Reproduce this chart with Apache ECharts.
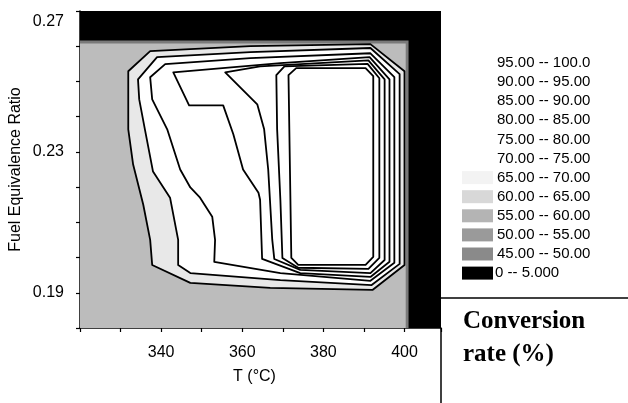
<!DOCTYPE html>
<html><head><meta charset="utf-8">
<script src="https://cdn.jsdelivr.net/npm/echarts@6/dist/echarts.min.js"></script>
<style>html,body{margin:0;padding:0;background:#fff}#c{width:628px;height:403px}</style>
</head><body><div id="c"></div>
<script>
// ---- axes ----
const tempRange = [320, 409];
const phiRange = [0.18, 0.27];
const tempTickLabels = [340, 360, 380, 400];
const phiTickLabels = ['0.19', '0.23', '0.27'];

// ---- legend ----
const legendLabels = ['95.00 -- 100.0','90.00 -- 95.00','85.00 -- 90.00','80.00 -- 85.00','75.00 -- 80.00','70.00 -- 75.00','65.00 -- 70.00','60.00 -- 65.00','55.00 -- 60.00','50.00 -- 55.00','45.00 -- 50.00','0 -- 5.000'];
const legendSwatch = [null,null,null,null,null,null,'#f3f3f3','#d8d8d8','#b4b4b4','#9a9a9a','#8a8a8a','#000000'];

// ---- regions (T in degC, phi) ----
const region0to5 = [[320,0.18],[409,0.18],[409,0.27],[320,0.27]];
const regionEdge = [[320,0.18],[401.0,0.18],[401.0,0.2616],[320,0.2616]];
const region45to50 = [[320,0.18],[400.3,0.18],[400.3,0.2608],[320,0.2608]];
const contour1 = [[331.9,0.2529],[337.3,0.2586],[362.0,0.2600],[391.6,0.2606],[400.0,0.2529],[400.0,0.1979],[392.1,0.1908],[366.9,0.1914],[347.2,0.1928],[337.8,0.1979],[337.3,0.2050],[335.6,0.2150],[333.1,0.2264],[331.9,0.2364]];
const contour2 = [[334.3,0.2506],[339.0,0.2569],[362.0,0.2583],[391.6,0.2595],[398.8,0.2521],[398.8,0.1982],[391.9,0.1922],[369.4,0.1936],[347.2,0.1956],[344.2,0.1979],[344.2,0.2050],[342.2,0.2170],[338.0,0.2244],[336.0,0.2364],[334.6,0.2449]];
const contour3 = [[337.3,0.2512],[341.0,0.2549],[362.0,0.2566],[391.6,0.2580],[397.5,0.2512],[397.5,0.1985],[391.6,0.1934],[369.4,0.1956],[353.1,0.1988],[353.3,0.2050],[352.6,0.2116],[349.6,0.2170],[347.2,0.2199],[344.7,0.2250],[341.5,0.2364],[337.8,0.2449]];
const contour4 = [[343.0,0.2526],[369.4,0.2552],[391.4,0.2569],[396.3,0.2506],[396.3,0.1988],[391.6,0.1945],[374.3,0.1956],[364.9,0.1996],[364.4,0.2164],[364.0,0.2184],[360.2,0.2250],[357.8,0.2350],[355.3,0.2432],[346.9,0.2432]];
const contour5 = [[355.8,0.2526],[364.4,0.2543],[391.1,0.2560],[395.1,0.2506],[395.1,0.1993],[391.6,0.1956],[374.3,0.1965],[367.9,0.1996],[367.4,0.2050],[366.4,0.2250],[365.4,0.2364],[363.7,0.2435]];
const contour6 = [[368.4,0.2518],[370.4,0.2543],[390.9,0.2550],[393.8,0.2509],[393.8,0.1999],[391.1,0.1968],[373.8,0.1971],[369.9,0.1999],[369.4,0.2164],[368.6,0.2364]];
const contour7 = [[371.4,0.2518],[373.3,0.2538],[390.4,0.2538],[392.3,0.2515],[392.3,0.2002],[390.4,0.1979],[373.8,0.1979],[372.1,0.1999]];

const regions = [region0to5, regionEdge, region45to50, contour1, contour2, contour3, contour4, contour5, contour6, contour7];
const regionFills = ['#000000','#7a7a7a','#bcbcbc','#e8e8e8','#ffffff','#ffffff','#ffffff','#ffffff','#ffffff','#ffffff'];
const regionStroke = [false,false,false,true,true,true,true,true,true,true];

const chart = echarts.init(document.getElementById('c'));
const FONT = 'Liberation Sans, Arial, sans-serif';
const SERIF = 'Liberation Serif, Times New Roman, serif';

const graphics = [];
legendLabels.forEach((lab, i) => {
  const yc = 63 + 19.1 * i;
  if (legendSwatch[i]) {
    graphics.push({type:'rect', left: 462, top: yc - 6.5, shape:{width:31, height:13}, style:{fill: legendSwatch[i]}, silent:true});
  }
  graphics.push({type:'text', x: (i === legendLabels.length - 1 ? 495 : 497), y: yc, style:{text: lab, fontSize: 15, fontFamily: FONT, fill:'#000', verticalAlign:'middle', textAlign:'left'}, silent:true});
});
graphics.push({type:'line', shape:{x1:441, y1:328, x2:441, y2:403}, style:{stroke:'#000', lineWidth:1.5}, silent:true});
graphics.push({type:'line', shape:{x1:441, y1:298, x2:628, y2:298}, style:{stroke:'#000', lineWidth:1.5}, silent:true});
graphics.push({type:'text', x:463, y:322, style:{text:'Conversion', fontSize:25, fontWeight:'bold', fontFamily:SERIF, fill:'#000', verticalAlign:'middle'}, silent:true});
graphics.push({type:'text', x:463, y:355, style:{text:'rate (%)', fontSize:25, fontWeight:'bold', fontFamily:SERIF, fill:'#000', verticalAlign:'middle'}, silent:true});

chart.setOption({
  animation: false,
  backgroundColor: '#fff',
  grid: {left: 80, top: 11, width: 361, height: 317},
  xAxis: {
    type: 'value', min: tempRange[0], max: tempRange[1], interval: 10,
    axisLine: {show: true, lineStyle: {color: '#000', width: 1.5}},
    axisTick: {show: true, length: 4, lineStyle: {color: '#000', width: 1.2}},
    splitLine: {show: false},
    axisLabel: {
      margin: 17, fontSize: 16, fontFamily: FONT, color: '#000',
      formatter: v => tempTickLabels.indexOf(Math.round(v)) >= 0 && Math.abs(v - Math.round(v)) < 1e-6 ? String(Math.round(v)) : ''
    },
    name: 'T (°C)', nameLocation: 'middle', nameGap: 41, nameMoveOverlap: false,
    nameTextStyle: {fontSize: 16, fontFamily: FONT, color: '#000', padding: [0, 12, 0, 0]}
  },
  yAxis: {
    type: 'value', min: phiRange[0], max: phiRange[1], interval: 0.01,
    axisLine: {show: true, lineStyle: {color: '#000', width: 1.5}},
    axisTick: {show: true, length: 4, lineStyle: {color: '#000', width: 1.2}},
    splitLine: {show: false},
    axisLabel: {
      margin: 16, fontSize: 16, fontFamily: FONT, color: '#000',
      formatter: v => {
        const s = v.toFixed(2);
        if (phiTickLabels.indexOf(s) < 0) return '';
        return s === phiTickLabels[phiTickLabels.length - 1] ? '{top|' + s + '}' : s;
      },
      rich: {top: {fontSize: 16, fontFamily: FONT, color: '#000', padding: [22, 0, 0, 0]}}
    },
    name: 'Fuel Equivalence Ratio', nameLocation: 'middle', nameGap: 56, nameMoveOverlap: false,
    nameTextStyle: {fontSize: 16, fontFamily: FONT, color: '#000'}
  },
  series: [{
    type: 'custom', coordinateSystem: 'cartesian2d', clip: true, silent: true,
    data: regions.map((r, i) => [i, r[0][0], r[0][1]]),
    encode: {x: 1, y: 2},
    renderItem: (params, api) => {
      const i = api.value(0);
      const pts = regions[i].map(p => api.coord(p));
      return {type: 'polygon', shape: {points: pts},
        style: {fill: regionFills[i], stroke: regionStroke[i] ? '#000' : null, lineWidth: 1.8, lineJoin: 'round'}};
    }
  }],
  graphic: graphics
});
</script></body></html>
